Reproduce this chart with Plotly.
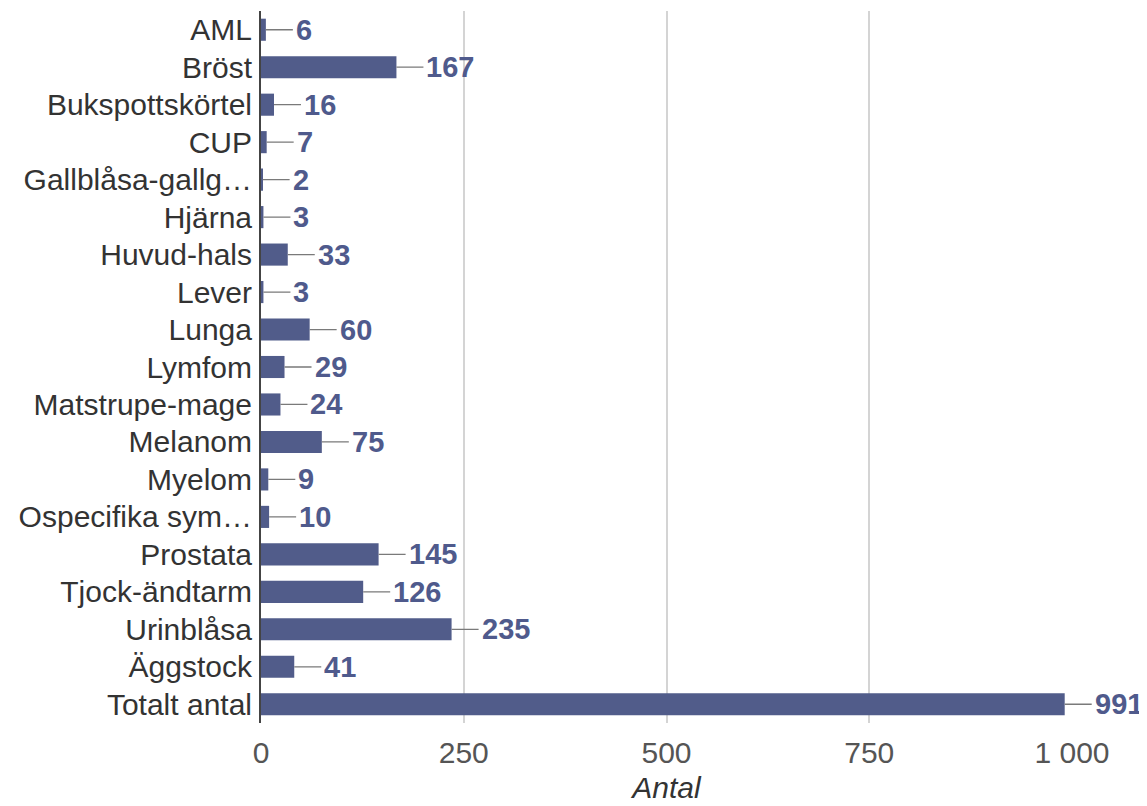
import plotly.graph_objects as go

categories = ["AML", "Bröst", "Bukspottskörtel", "CUP", "Gallblåsa-gallg…", "Hjärna",
              "Huvud-hals", "Lever", "Lunga", "Lymfom", "Matstrupe-mage", "Melanom",
              "Myelom", "Ospecifika sym…", "Prostata", "Tjock-ändtarm", "Urinblåsa",
              "Äggstock", "Totalt antal"]
values = [6, 167, 16, 7, 2, 3, 33, 3, 60, 29, 24, 75, 9, 10, 145, 126, 235, 41, 991]
x_ticks = [0, 250, 500, 750, 1000]
x_title = "Antal"

BAR = "#515c8a"
FONT = "Liberation Sans, Arial, sans-serif"

fig = go.Figure()
fig.add_trace(go.Bar(
    x=values, y=categories, orientation="h",
    marker=dict(color=BAR, line=dict(width=0)),
    hoverinfo="x+y",
))

for c, v in zip(categories, values):
    fig.add_annotation(
        x=v, y=c, xref="x", yref="y",
        text=f"<b>{v}</b>", showarrow=True, arrowhead=0, arrowwidth=1.3,
        arrowcolor="#7a7a7a", ax=29, ay=0, xanchor="left", standoff=0,
        startstandoff=2, borderpad=0,
        font=dict(family=FONT, size=29, color="#4f5a8c"),
    )

fig.update_layout(
    width=1139, height=798,
    margin=dict(l=253, r=75, t=3, b=83),
    plot_bgcolor="white", paper_bgcolor="white",
    separators=", ",
    bargap=0.41,
    showlegend=False,
    font=dict(family=FONT, size=30, color="#333"),
    xaxis=dict(
        range=[0, 1000], tickvals=x_ticks, tickformat=",d",
        showgrid=True, gridcolor="#d4d4d4", gridwidth=2,
        zeroline=False, showline=False,
        tickfont=dict(size=30, color="#555"),
        ticks="outside", ticklen=3, tickcolor="white",
        title=dict(text=f"<i>{x_title}</i>", font=dict(size=30, color="#333"), standoff=8),
        automargin=True,
    ),
    yaxis=dict(
        autorange="reversed", showgrid=False,
        showline=True, linecolor="#444", linewidth=2,
        ticks="", ticklabelstandoff=1,
        tickfont=dict(size=30, color="#333"),
        automargin=False,
    ),
)

fig.write_html("out.html")
